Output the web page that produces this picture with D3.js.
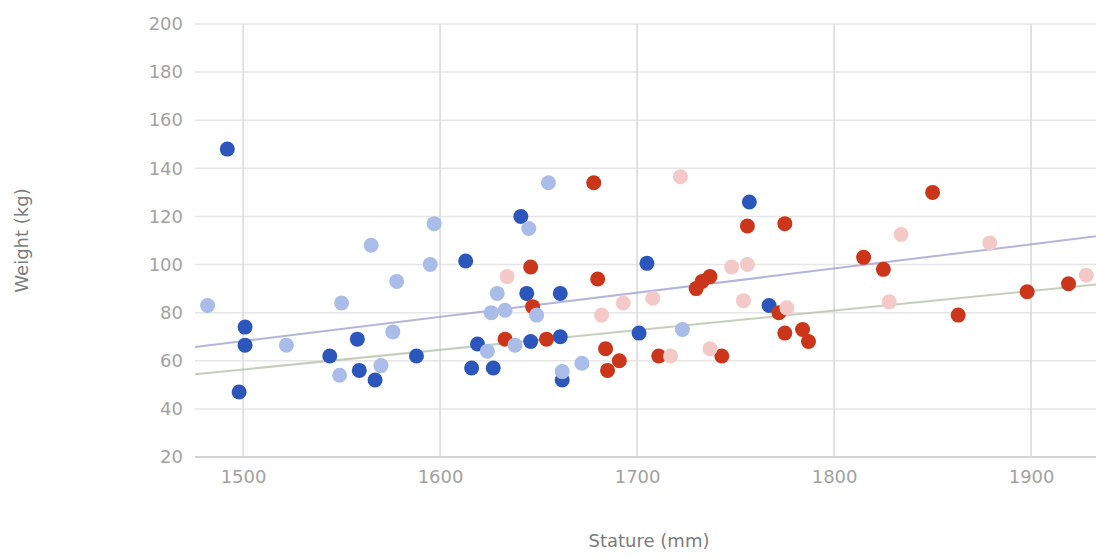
<!DOCTYPE html>
<html>
<head>
<meta charset="utf-8">
<script src="https://cdn.jsdelivr.net/npm/d3@7"></script>
<style>
  html, body { margin: 0; padding: 0; background: #fff; }
  svg { display: block; }
</style>
</head>
<body>
<div id="chart"></div>
<script>
// values: [stature (mm), weight (kg)]
const darkBlue = [
  [1492, 148], [1501, 74], [1501, 66.5], [1498, 47], [1558, 69], [1544, 62],
  [1559, 56], [1567, 52], [1588, 62], [1613, 101.5], [1641, 120], [1644, 88],
  [1661, 88], [1619, 67], [1616, 57], [1627, 57], [1646, 68], [1661, 70],
  [1662, 52], [1757, 126], [1705, 100.5], [1767, 83], [1701, 71.5]
];
const lightBlue = [
  [1482, 83], [1522, 66.5], [1565, 108], [1578, 93], [1550, 84], [1576, 72],
  [1549, 54], [1570, 58], [1597, 117], [1595, 100], [1655, 134], [1645, 115],
  [1629, 88], [1626, 80], [1633, 81], [1649, 79], [1638, 66.5], [1624, 64],
  [1662, 55.5], [1672, 59], [1723, 73]
];
const darkRed = [
  [1678, 134], [1646, 99], [1680, 94], [1647, 82.5], [1633, 69], [1654, 69],
  [1684, 65], [1691, 60], [1685, 56], [1756, 116], [1775, 117], [1730, 90],
  [1733, 93], [1737, 95], [1772, 80], [1775, 71.5], [1784, 73], [1787, 68],
  [1711, 62], [1743, 62], [1850, 130], [1815, 103], [1825, 98], [1898, 88.7],
  [1919, 92], [1863, 79]
];
const lightPink = [
  [1634, 95], [1682, 79], [1693, 84], [1722, 136.5], [1748, 99], [1756, 100],
  [1708, 86], [1754, 85], [1776, 82], [1717, 62], [1737, 65], [1834, 112.5],
  [1879, 109], [1828, 84.5], [1928, 95.6]
];

// trend lines, end points
const trendStature = [1475.6, 1936.5];
const upperTrend = [65.7, 112.1];
const lowerTrend = [54.4, 92];

const xTicks = [1500, 1600, 1700, 1800, 1900];
const yTicks = [20, 40, 60, 80, 100, 120, 140, 160, 180, 200];

const width = 1096, height = 558;
const plot = { left: 195, right: 1103, top: 24, bottom: 457 };

const svg = d3.select("#chart").append("svg")
  .attr("width", width)
  .attr("height", height);

const x = d3.scaleLinear().domain([1475.6, 1936.5]).range([plot.left, plot.right]);
const y = d3.scaleLinear().domain([20, 200]).range([plot.bottom, plot.top]);

// gridlines
svg.append("g")
  .selectAll("line")
  .data(yTicks)
  .join("line")
    .attr("x1", plot.left).attr("x2", plot.right)
    .attr("y1", d => y(d)).attr("y2", d => y(d))
    .attr("stroke", d => d === 20 ? "#d4d4d4" : "#e6e6e6")
    .attr("stroke-width", d => d === 20 ? 2 : 1.5);

svg.append("g")
  .selectAll("line")
  .data(xTicks)
  .join("line")
    .attr("x1", d => x(d)).attr("x2", d => x(d))
    .attr("y1", plot.top).attr("y2", plot.bottom)
    .attr("stroke", "#d9d9d9")
    .attr("stroke-width", 1.5);

// axis labels via d3 axes, domain and ticks hidden
const axisY = svg.append("g")
  .attr("transform", `translate(${plot.left - 12},0)`)
  .call(d3.axisLeft(y).tickValues(yTicks).tickSize(0).tickPadding(0));
const axisX = svg.append("g")
  .attr("transform", `translate(0,${plot.bottom + 13})`)
  .call(d3.axisBottom(x).tickValues(xTicks).tickFormat(d3.format("d")).tickSize(0).tickPadding(0));

[axisX, axisY].forEach(a => {
  a.select(".domain").remove();
  a.selectAll("text")
    .attr("fill", "#a2a2a2")
    .attr("font-family", "DejaVu Sans, sans-serif")
    .attr("font-size", "18px");
});

// trend lines
const trendLine = d3.line()
  .x(d => x(d[0]))
  .y(d => y(d[1]));

svg.append("path")
  .datum(trendStature.map((s, i) => [s, upperTrend[i]]))
  .attr("fill", "none")
  .attr("stroke", "#9a9ccc")
  .attr("stroke-opacity", 0.75)
  .attr("stroke-width", 2)
  .attr("d", trendLine);

svg.append("path")
  .datum(trendStature.map((s, i) => [s, lowerTrend[i]]))
  .attr("fill", "none")
  .attr("stroke", "#b3bda5")
  .attr("stroke-opacity", 0.75)
  .attr("stroke-width", 2)
  .attr("d", trendLine);

// points
const series = [
  { data: darkBlue, color: "#2d56bd" },
  { data: darkRed, color: "#cb3519" },
  { data: lightBlue, color: "#a9bde8" },
  { data: lightPink, color: "#f3cac8" }
];

series.forEach(s => {
  svg.append("g")
    .selectAll("circle")
    .data(s.data)
    .join("circle")
      .attr("cx", d => x(d[0]))
      .attr("cy", d => y(d[1]))
      .attr("r", 7.5)
      .attr("fill", s.color);
});

// axis titles
svg.append("text")
  .attr("x", (plot.left + plot.right) / 2)
  .attr("y", 547)
  .attr("text-anchor", "middle")
  .attr("fill", "#7c7c7c")
  .attr("font-family", "DejaVu Sans, sans-serif")
  .attr("font-size", "18px")
  .text("Stature (mm)");

svg.append("text")
  .attr("transform", `translate(28,${(plot.top + plot.bottom) / 2}) rotate(-90)`)
  .attr("text-anchor", "middle")
  .attr("fill", "#7c7c7c")
  .attr("font-family", "DejaVu Sans, sans-serif")
  .attr("font-size", "18px")
  .text("Weight (kg)");
</script>
</body>
</html>
